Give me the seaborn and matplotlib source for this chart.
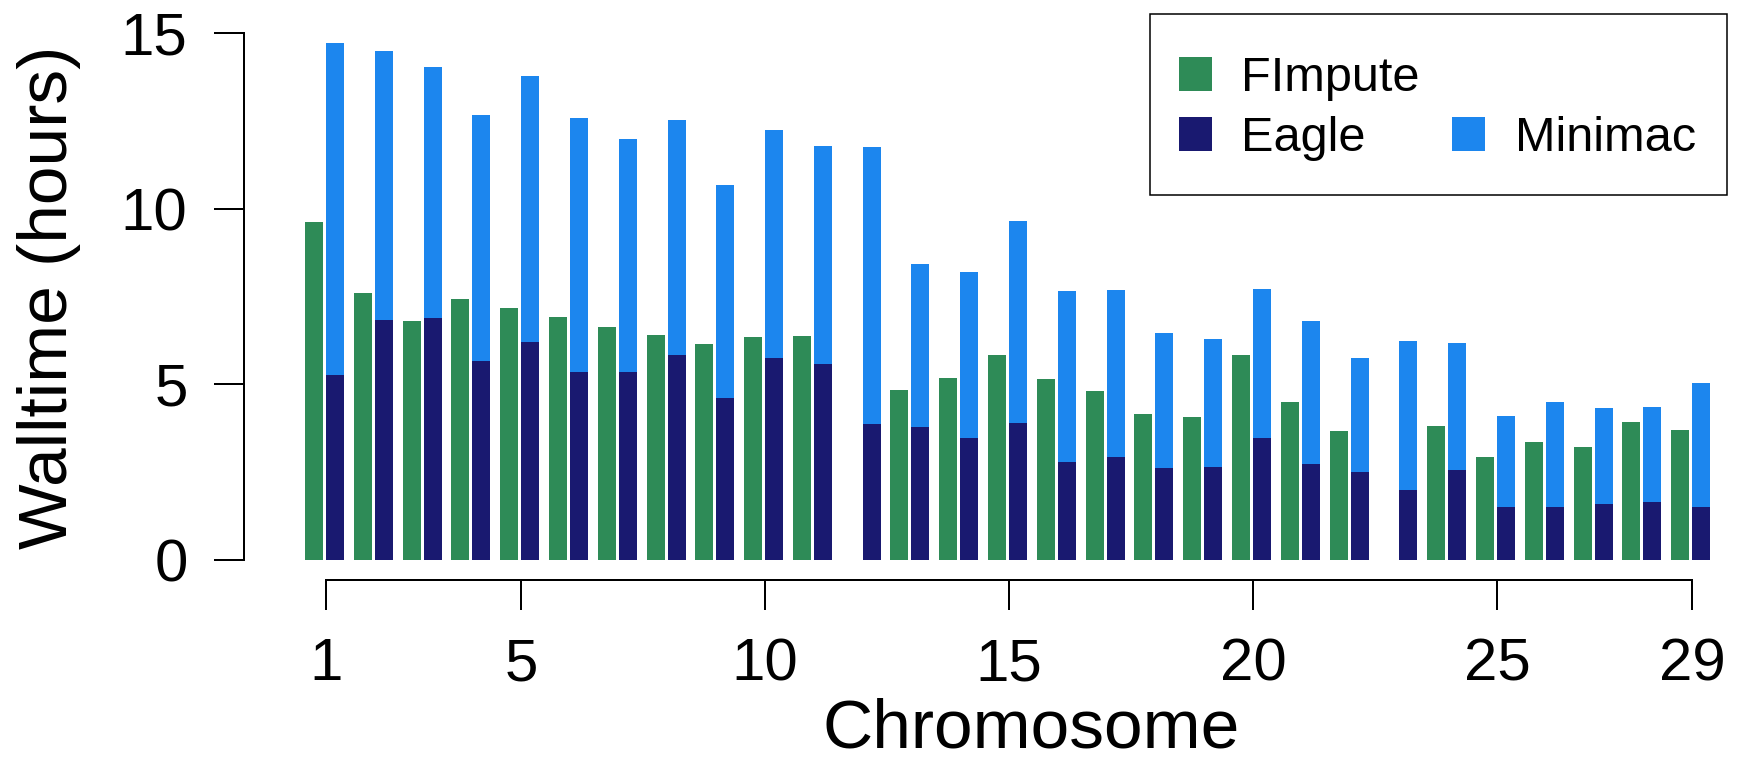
import numpy as np
import pandas as pd
import matplotlib
matplotlib.use("Agg")
import matplotlib.pyplot as plt
from matplotlib.patches import Patch, Rectangle
import seaborn as sns

# Imputation walltime per chromosome (hours)
chromosomes = [str(i) for i in range(1, 30)]
fimpute = [9.63, 7.59, 6.81, 7.44, 7.19, 6.93, 6.64, 6.40, 6.16, 6.36,
           6.38, np.nan, 4.84, 5.18, 5.84, 5.15, 4.82, 4.15, 4.08, 5.83,
           4.51, 3.67, np.nan, 3.83, 2.93, 3.35, 3.22, 3.93, 3.70]
eagle = [5.28, 6.84, 6.90, 5.68, 6.22, 5.35, 5.36, 5.83, 4.62, 5.76,
         5.58, 3.86, 3.78, 3.48, 3.90, 2.79, 2.93, 2.62, 2.66, 3.48,
         2.72, 2.51, 1.99, 2.57, 1.52, 1.52, 1.60, 1.66, 1.52]
minimac = [9.44, 7.65, 7.13, 7.00, 7.57, 7.23, 6.63, 6.70, 6.05, 6.50,
           6.21, 7.90, 4.66, 4.72, 5.75, 4.87, 4.76, 3.84, 3.63, 4.23,
           4.09, 3.25, 4.26, 3.62, 2.58, 2.99, 2.73, 2.70, 3.51]
tick_chromosomes = [1, 5, 10, 15, 20, 25, 29]
y_ticks = [0, 5, 10, 15]

colors = {"FImpute": "#2E8B57", "Eagle": "#191970", "Minimac": "#1C86EE"}

sns.set_style("ticks")
plt.rcParams["font.family"] = ["Liberation Sans", "DejaVu Sans"]

W, H, DPI = 1739, 764, 100
fig = plt.figure(figsize=(W / DPI, H / DPI), dpi=DPI)
ax = fig.add_axes([244 / W, 1 - 580 / H, (1727 - 244) / W, (580 - 14) / H])

n = len(chromosomes)
totals = np.array(eagle) + np.array(minimac)

# FImpute beside the Eagle + Minimac stack (stack drawn as total, then Eagle on top)
front = pd.DataFrame({
    "chrom": chromosomes * 2,
    "hours": list(fimpute) + list(totals),
    "method": ["FImpute"] * n + ["Minimac"] * n,
})
lower = pd.DataFrame({
    "chrom": chromosomes,
    "hours": eagle,
    "method": ["Eagle"] * n,
})

bar_kw = dict(x="chrom", y="hours", hue="method", order=chromosomes,
              dodge=True, width=0.861, gap=0.143, errorbar=None,
              saturation=1, linewidth=0, legend=False, ax=ax)
sns.barplot(data=front, hue_order=["FImpute", "Minimac"],
            palette={"FImpute": colors["FImpute"], "Minimac": colors["Minimac"]},
            **bar_kw)
sns.barplot(data=lower, hue_order=["FImpute", "Eagle"],
            palette={"FImpute": colors["FImpute"], "Eagle": colors["Eagle"]},
            **bar_kw)

ax.set_xlim(-1.650, 28.745)
ax.set_ylim(-0.57, 15.55)

tick_pos = [k - 1 + 0.03 for k in tick_chromosomes]
ax.set_xticks(tick_pos)
ax.set_xticklabels([str(k) for k in tick_chromosomes])
ax.set_yticks(y_ticks)
ax.set_yticklabels([str(v) for v in y_ticks])

ax.tick_params(axis="both", length=21.6, width=1.44, color="black",
               labelsize=43.2, labelcolor="black")
ax.tick_params(axis="x", pad=19.5)
ax.tick_params(axis="y", pad=19)

for side in ("top", "right"):
    ax.spines[side].set_visible(False)
ax.spines["left"].set_bounds(0, 15)
ax.spines["bottom"].set_bounds(tick_pos[0], tick_pos[-1])
for side in ("left", "bottom"):
    ax.spines[side].set_linewidth(1.44)
    ax.spines[side].set_color("black")

ax.set_xlabel("Chromosome", fontsize=50, color="black")
ax.xaxis.set_label_coords(0.531, -0.208)
ax.set_ylabel("Walltime (hours)", fontsize=50, color="black")
ax.yaxis.set_label_coords(-0.110, 0.5)

# Legend: entries laid out in two columns, with a plain rectangular box around them
handles = [Patch(facecolor=colors["FImpute"], linewidth=0),
           Patch(facecolor=colors["Eagle"], linewidth=0),
           Patch(facecolor="none", edgecolor="none"),
           Patch(facecolor=colors["Minimac"], linewidth=0)]
labels = ["FImpute", "Eagle", "", "Minimac"]
leg = ax.legend(handles, labels, ncol=2, loc="upper left",
                bbox_to_anchor=(1179 / W, 1 - 56 / H),
                bbox_transform=fig.transFigure, borderaxespad=0,
                fontsize=35, handlelength=0.67, handleheight=0.7,
                handletextpad=0.61, columnspacing=0.67, labelspacing=0.31,
                borderpad=0, frameon=False)
for txt in leg.get_texts():
    txt.set_color("black")

fig.add_artist(Rectangle((1150 / W, 1 - 195 / H), (1727 - 1150) / W, (195 - 14) / H,
                         transform=fig.transFigure, fill=False,
                         edgecolor="black", linewidth=1.1))

fig.savefig("out.png", dpi=DPI)
